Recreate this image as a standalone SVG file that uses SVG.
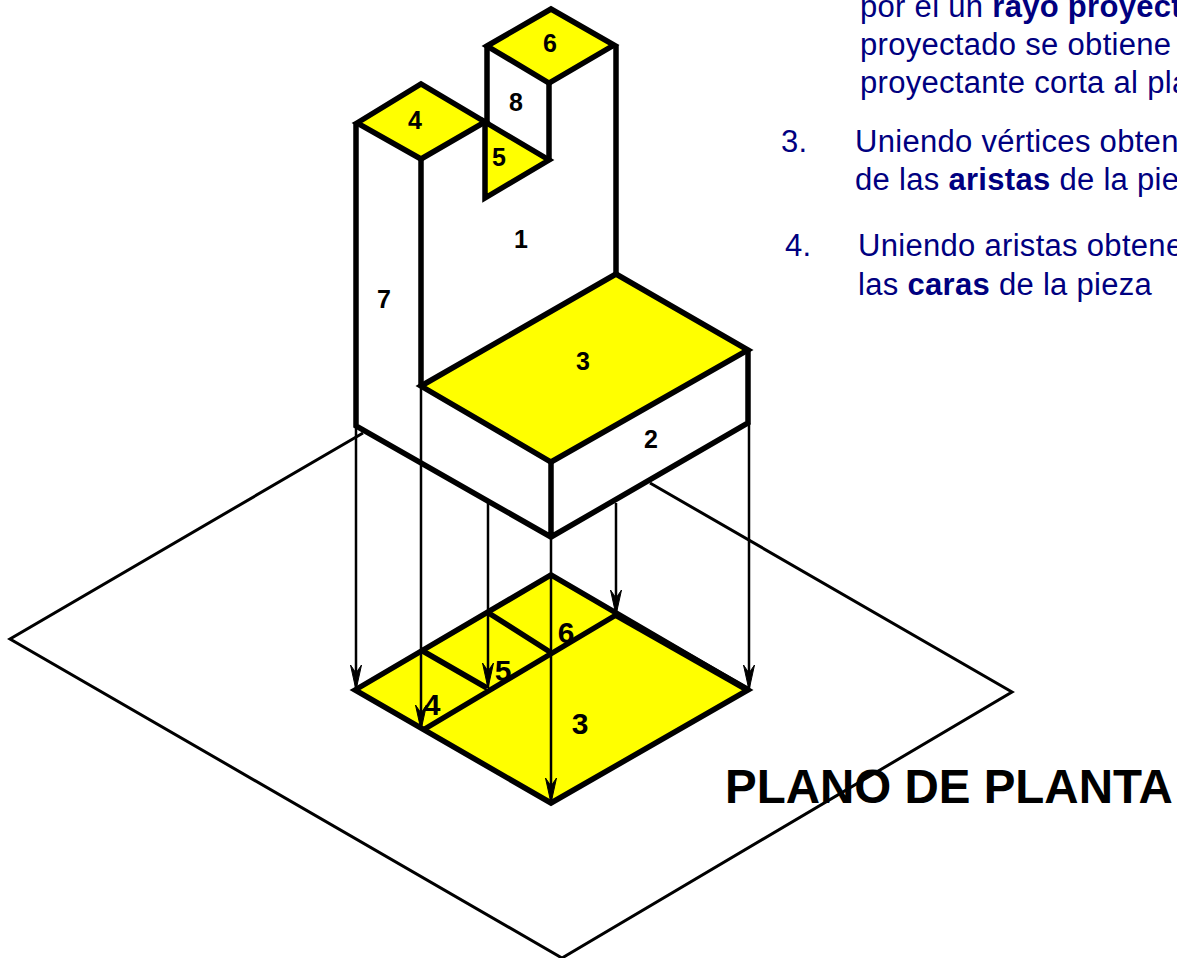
<svg xmlns="http://www.w3.org/2000/svg" width="1177" height="958" viewBox="0 0 1177 958">
<style>
.e{fill:none;stroke:#000;stroke-width:5.5;stroke-linecap:butt;stroke-linejoin:miter}
.f{fill:#ff0;stroke:#000;stroke-width:5.5;stroke-linejoin:miter}
.p{fill:none;stroke:#000;stroke-width:3}
.r{fill:none;stroke:#000;stroke-width:2.5;marker-end:url(#a)}
.n{font:bold 25px "Liberation Sans",Arial,sans-serif;fill:#000;text-anchor:middle}
.b{font:bold 30px "Liberation Sans",Arial,sans-serif;fill:#000;text-anchor:middle}
.t{font:31px "Liberation Sans",Arial,sans-serif;fill:#000080;letter-spacing:.3px}
.t tspan{font-weight:bold}
.h{font:bold 47.5px "Liberation Sans",Arial,sans-serif;fill:#000}
</style>
<defs><marker id="a" markerUnits="userSpaceOnUse" markerWidth="30" markerHeight="14" refX="26" refY="7" orient="auto"><path d="M1 1.5L26 7L1 12.5L9 7Z" fill="#000" stroke="#000" stroke-width="1"/></marker></defs>
<g id="plane"><path class="p" d="M363 433L10 639L562 958L1012 692L650 483"/></g>
<g id="plan-view">
<path class="f" d="M355 690L551 575L748 690L551 803Z"/>
<path class="e" d="M421 650L487 688M487 612L550 652M423 730L616 615"/>
<path d="M616 615L748 690" class="e" style="stroke-width:6.5"/>
</g>
<g id="piece">
<g id="face-1"><text class="n" x="521" y="248">1</text></g>
<g id="face-2"><text class="n" x="651" y="448">2</text></g>
<g id="face-3"><path class="f" d="M421 386L616 274L748 350L551 462Z"/><text class="n" x="583" y="370">3</text></g>
<g id="face-4"><path class="f" d="M357 123L421 84L485 122L421 159Z"/><text class="n" x="415" y="129">4</text></g>
<g id="face-5"><path class="f" d="M485 122L549 160L485 198Z"/><text class="n" x="499" y="166">5</text></g>
<g id="face-6"><path class="f" d="M487 46L551 9L614 45L549 83Z"/><text class="n" x="550" y="52">6</text></g>
<g id="face-7"><text class="n" x="384" y="308">7</text></g>
<g id="face-8"><text class="n" x="516" y="111">8</text></g>
<path class="e" d="M356 123V426L551 537L748 423V350M421 159V386M551 462V537M616 45V274M487 46V122M549 83V160"/>
</g>
<g id="connectors">
<path class="r" d="M356 426V690"/>
<path class="r" d="M421 386V730"/>
<path class="r" d="M488 503V688"/>
<path class="r" d="M551 537V803"/>
<path class="r" d="M616 503V615"/>
<path class="r" d="M749 423V690"/>
</g>
<g id="plan-labels">
<text class="b" x="566" y="643">6</text>
<text class="b" x="503" y="681">5</text>
<text class="b" x="432" y="715">4</text>
<text class="b" x="580" y="734">3</text>
</g>
<g id="text">
<text class="t" x="860" y="17">por el un <tspan>rayo proyect</tspan></text>
<text class="t" x="860" y="55">proyectado se obtiene</text>
<text class="t" x="860" y="93">proyectante corta al pla</text>
<text class="t" x="781" y="152">3.</text>
<text class="t" x="855" y="152">Uniendo vértices obten</text>
<text class="t" x="855" y="190">de las <tspan>aristas</tspan> de la pie</text>
<text class="t" x="785" y="256">4.</text>
<text class="t" x="858" y="256">Uniendo aristas obtene</text>
<text class="t" x="858" y="295">las <tspan>caras</tspan> de la pieza</text>
<text class="h" x="725" y="803">PLANO DE PLANTA</text>
</g>
</svg>
